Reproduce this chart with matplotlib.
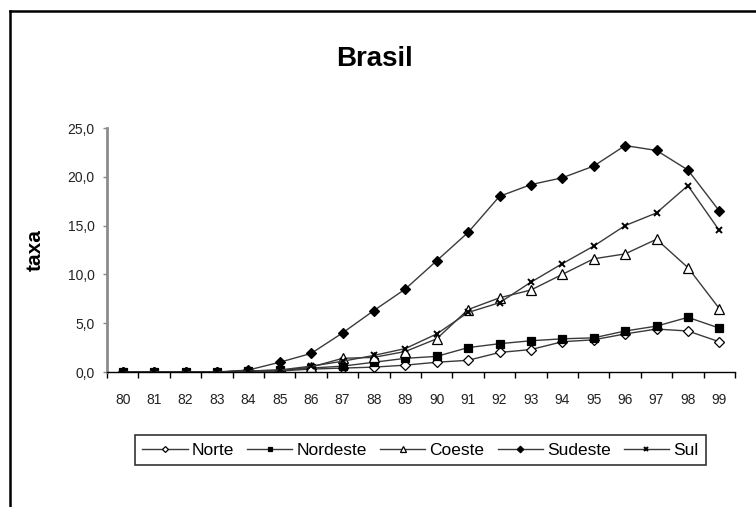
import matplotlib
matplotlib.use("Agg")
import matplotlib.pyplot as plt
from matplotlib.lines import Line2D

plt.rcParams['font.family'] = ['Liberation Sans', 'DejaVu Sans']

years = ['80', '81', '82', '83', '84', '85', '86', '87', '88', '89',
         '90', '91', '92', '93', '94', '95', '96', '97', '98', '99']

norte    = [0.0, 0.0, 0.0, 0.0, 0.1, 0.1, 0.3, 0.4, 0.5, 0.7,
            1.0, 1.2, 2.0, 2.3, 3.1, 3.3, 3.9, 4.4, 4.2, 3.1]
nordeste = [0.0, 0.0, 0.0, 0.0, 0.1, 0.2, 0.4, 0.6, 1.0, 1.4,
            1.6, 2.5, 2.9, 3.2, 3.4, 3.5, 4.2, 4.7, 5.6, 4.5]
coeste   = [0.0, 0.0, 0.0, 0.0, 0.1, 0.1, 0.5, 1.4, 1.5, 2.1,
            3.4, 6.4, 7.6, 8.4, 10.0, 11.6, 12.1, 13.6, 10.7, 6.5]
sudeste  = [0.0, 0.0, 0.0, 0.0, 0.2, 1.0, 1.9, 4.0, 6.3, 8.5,
            11.4, 14.3, 18.0, 19.2, 19.9, 21.1, 23.2, 22.7, 20.7, 16.5]
sul      = [0.0, 0.0, 0.0, 0.0, 0.1, 0.2, 0.6, 1.1, 1.7, 2.4,
            3.9, 6.1, 7.1, 9.2, 11.1, 12.9, 15.0, 16.3, 19.1, 14.5]

series_names = ['Norte', 'Nordeste', 'Coeste', 'Sudeste', 'Sul']
yticks = [0, 5, 10, 15, 20, 25]
ytick_labels = ['0,0', '5,0', '10,0', '15,0', '20,0', '25,0']

fig = plt.figure(figsize=(7.56, 5.07), dpi=100)
ax = fig.add_axes([107/756, 1 - 372/507, (735-107)/756, (372-128)/507])

x = list(range(len(years)))
line_color = '#3a3a3a'
styles = [
    dict(marker='D', mfc='white', mec='black', ms=5, mew=0.9),
    dict(marker='s', mfc='black', mec='black', ms=5.5, mew=0.9),
    dict(marker='^', mfc='white', mec='black', ms=7, mew=0.9),
    dict(marker='D', mfc='black', mec='black', ms=5.5, mew=0.9),
    dict(marker='x', mfc='black', mec='black', ms=5, mew=1.4),
]
data = [norte, nordeste, coeste, sudeste, sul]
handles = []
for name, vals, st in zip(series_names, data, styles):
    h, = ax.plot(x, vals, color=line_color, lw=1.0, label=name, **st)
    handles.append(h)

ax.set_xlim(-0.5, len(years) - 0.5)
ax.set_ylim(0, 25)
ax.set_yticks(yticks)
ax.set_yticklabels(ytick_labels)
ax.set_xticks(x)
ax.set_xticklabels(years)
ax.set_xticks([i - 0.5 for i in range(len(years) + 1)], minor=True)
ax.tick_params(axis='x', which='major', length=0, pad=15, labelsize=10, colors='#222222')
ax.tick_params(axis='x', which='minor', length=4, width=1, direction='out', color='black')
ax.tick_params(axis='y', length=3, width=1, direction='out', color='#888888',
               labelsize=10, labelcolor='#222222', pad=6)

for s in ['top', 'right']:
    ax.spines[s].set_visible(False)
ax.spines['left'].set_color('#8c8c8c')
ax.spines['left'].set_linewidth(2)
ax.spines['bottom'].set_color('black')
ax.spines['bottom'].set_linewidth(1)

fig.text(375/756, 1 - 59/507, 'Brasil', ha='center', va='center',
         fontsize=20, fontweight='bold')
fig.text(35/756, 1 - 250/507, 'taxa', ha='center', va='center',
         rotation=90, fontsize=15, fontweight='bold')

leg = fig.legend(handles=handles, labels=series_names, ncol=5,
                 loc='center', bbox_to_anchor=((128 + 713) / 2 / 756, 1 - 450/507),
                 frameon=True, fancybox=False, edgecolor='black',
                 fontsize=12.5, handlelength=2.6, handletextpad=0.25,
                 columnspacing=0.75, borderpad=0.45, markerscale=0.6)
leg.get_frame().set_linewidth(1.2)

# outer chart-area border (top and left visible)
fig.add_artist(Line2D([10/756, 10/756], [0, 1 - 11/507], transform=fig.transFigure,
                      color='black', lw=1.8))
fig.add_artist(Line2D([10/756, 1], [1 - 11/507, 1 - 11/507], transform=fig.transFigure,
                      color='black', lw=1.8))

fig.savefig('out.png', dpi=100)
